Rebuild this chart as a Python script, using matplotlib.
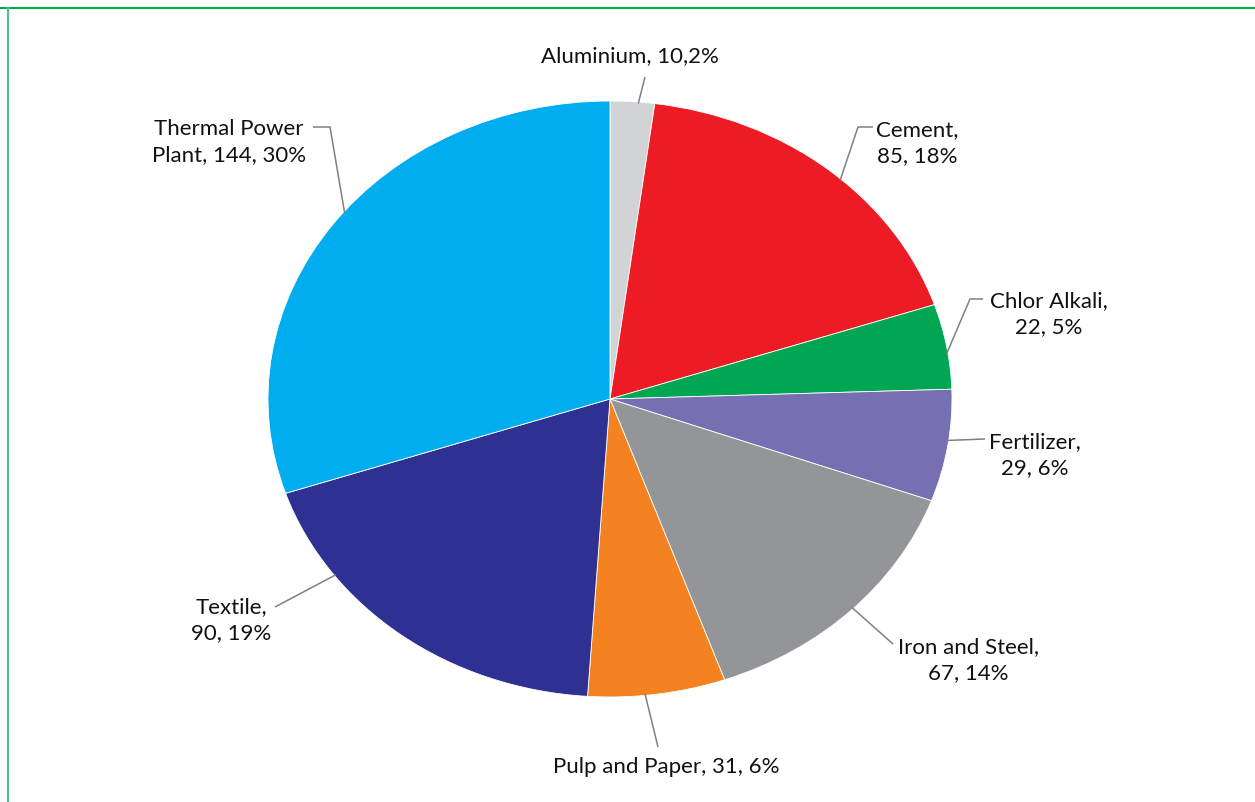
import numpy as np
import matplotlib.pyplot as plt
from matplotlib.lines import Line2D

# data
sectors = ['Aluminium', 'Cement', 'Chlor Alkali', 'Fertilizer', 'Iron and Steel',
           'Pulp and Paper', 'Textile', 'Thermal Power Plant']
counts = [10, 85, 22, 29, 67, 31, 90, 144]
shares = [2, 18, 5, 6, 14, 6, 19, 30]
colors = ['#d1d3d4', '#ed1c24', '#00a651', '#7670b3', '#939598',
          '#f58220', '#2e3192', '#00aeef']
labels = ['Aluminium, 10,2%', 'Cement,\n85, 18%', 'Chlor Alkali,\n22, 5%',
          'Fertilizer,\n29, 6%', 'Iron and Steel,\n67, 14%',
          'Pulp and Paper, 31, 6%', 'Textile,\n90, 19%',
          'Thermal Power\nPlant, 144, 30%']

W, H = 1255, 803
CX, CY, RX, RY = 610, 400, 342, 298

plt.rcParams['font.family'] = ['Lato', 'DejaVu Sans']

fig = plt.figure(figsize=(W / 100, H / 100), dpi=100)
ax = fig.add_axes([0, 0, 1, 1])
wedges, _ = ax.pie(counts, colors=colors, startangle=90, counterclock=False,
                   wedgeprops=dict(linewidth=0.6, edgecolor='white'))
ax.set_aspect('auto')
ax.set_xlim(-CX / RX, (W - CX) / RX)
ax.set_ylim(-(H - CY) / RY, CY / RY)


def px(x, y):
    # pixel position (from top-left) -> data coords
    return (x - CX) / RX, (CY - y) / RY


# text centre and leader path (text side first) in pixels
text_pos = [(630, 56), (917, 143), (1049, 314), (1035, 455),
            (968, 660), (666, 767), (231, 620), (229, 142)]
leaders = [[(645, 78)], [(873, 128), (858, 128)], [(983, 300), (970, 300)],
           [(985, 440)], [(893, 645)], [(658, 748)], [(275, 608)],
           [(313, 128), (330, 128)]]
# shift of the leader's end from the wedge middle, degrees
end_shift = [-1, -3, -1.5, 1, 0.5, -2, -16, -3]

for w, lab, tp, pts, sh in zip(wedges, labels, text_pos, leaders, end_shift):
    mid = np.deg2rad((w.theta1 + w.theta2) / 2 + sh)
    ex, ey = np.cos(mid) * 0.995, np.sin(mid) * 0.995
    tx, ty = px(*tp)
    ax.text(tx, ty, lab, ha='center', va='center', fontsize=16,
            color='#111111', linespacing=1.38)
    xs = [px(*p)[0] for p in pts] + [ex]
    ys = [px(*p)[1] for p in pts] + [ey]
    ax.plot(xs, ys, color='#808080', lw=1.1, solid_capstyle='butt')

# green frame (top and left)
fig.add_artist(Line2D([0, 1], [1 - 8.5 / H, 1 - 8.5 / H], color='#00b050', lw=1.5,
                      transform=fig.transFigure))
fig.add_artist(Line2D([7.5 / W, 7.5 / W], [0, 1 - 8.5 / H], color='#4cc28a', lw=1.5,
                      transform=fig.transFigure))

fig.savefig('out.png', dpi=100, facecolor='white')
